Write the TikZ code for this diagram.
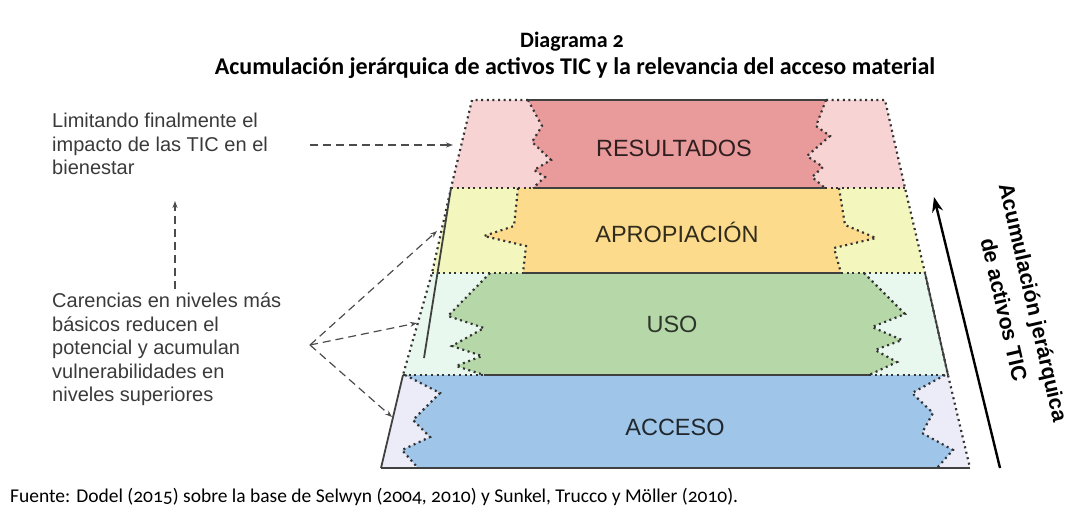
\documentclass[tikz,border=0pt]{standalone}
\usepackage{fontspec}
\setmainfont{Liberation Sans}
\newfontfamily\calfont[Numbers=OldStyle]{Carlito}
\usetikzlibrary{arrows.meta}

\definecolor{resA}{HTML}{E99A9B}
\definecolor{resB}{HTML}{F8D3D3}
\definecolor{aprA}{HTML}{FCDB8C}
\definecolor{aprB}{HTML}{F3F7BE}
\definecolor{usoA}{HTML}{B6D7A8}
\definecolor{usoB}{HTML}{E8F8EE}
\definecolor{accA}{HTML}{9FC5E8}
\definecolor{accB}{HTML}{ECEBF8}
\definecolor{txt}{HTML}{3A3A3A}

\begin{document}
\begin{tikzpicture}[x=1pt,y=-1pt,
  dots/.style={draw=black!80,line width=2.2pt,dash pattern=on 2pt off 3.6pt},
  rim/.style={draw=black!75,line width=1.8pt},
  hint/.style={draw=black!70,line width=1.2pt,dash pattern=on 8pt off 5pt,-{Stealth[length=7pt,width=5pt]}},
  level/.style={font=\fontsize{23.5}{28}\selectfont},
  note/.style={align=left,anchor=north west,inner sep=0pt,text=txt,font=\fontsize{20}{23.5}\selectfont}]
  \useasboundingbox (0,0) rectangle (1072,520);

  % -=-=-=-=- TITLE -=-=-=-=-
  \node[font=\calfont\bfseries\fontsize{22}{26}\selectfont] (title) at (572,42) {Diagrama 2};
  \node[font=\calfont\bfseries\fontsize{24}{28}\selectfont] (subtitle) at (575,68) {Acumulación jerárquica de activos TIC y la relevancia del acceso material};

  % -=-=-=-=- LEVEL FILLS -=-=-=-=-
  \fill[resB] (472,100) -- (885,100) -- (905,188) -- (451,188) -- cycle;
  \fill[resA] (528,100) -- (542,126) -- (532,142) -- (551,160) -- (534,170) -- (545,177) -- (533,188)
    -- (825,188) -- (812,177) -- (823,167) -- (807,156) -- (830,136) -- (816,126) -- (826,100) -- cycle;
  \fill[aprB] (451,188) -- (905,188) -- (925,273) -- (432,273) -- cycle;
  \fill[aprA] (518,188) -- (514,226) -- (484,236) -- (526,246) -- (523,273)
    -- (841,273) -- (834,248) -- (876,238) -- (845,225) -- (839,188) -- cycle;
  \fill[usoB] (432,273) -- (925,273) -- (948,375) -- (403,375) -- cycle;
  \fill[usoA] (490,273) -- (448,316) -- (484,328) -- (452,346) -- (482,356) -- (456,366) -- (484,375)
    -- (869,375) -- (897,362) -- (875,350) -- (902,340) -- (872,327) -- (905,314) -- (864,273) -- cycle;
  \fill[accB] (403,375) -- (948,375) -- (970,468) -- (381,468) -- cycle;
  \fill[accA] (405,375) -- (440,393) -- (413,420) -- (430,437) -- (402,450) -- (418,468)
    -- (937,468) -- (953,450) -- (922,433) -- (933,413) -- (912,393) -- (945,375) -- cycle;

  % -=-=-=-=- DOTTED EDGES -=-=-=-=-
  \draw[dots] (528,100) -- (472,100) -- (451,188) -- (432,273) -- (403,375);
  \draw[dots] (826,100) -- (885,100) -- (905,188) -- (925,273) -- (948,375) -- (970,468);
  \draw[dots] (451,188) -- (533,188) (825,188) -- (905,188);
  \draw[dots] (432,273) -- (523,273) (841,273) -- (925,273);
  \draw[dots] (403,375) -- (484,375) (869,375) -- (948,375);
  \draw[dots] (528,100) -- (542,126) -- (532,142) -- (551,160) -- (534,170) -- (545,177) -- (533,188);
  \draw[dots] (826,100) -- (816,126) -- (830,136) -- (807,156) -- (823,167) -- (812,177) -- (825,188);
  \draw[dots] (518,188) -- (514,226) -- (484,236) -- (526,246) -- (523,273);
  \draw[dots] (839,188) -- (845,225) -- (876,238) -- (834,248) -- (841,273);
  \draw[dots] (490,273) -- (448,316) -- (484,328) -- (452,346) -- (482,356) -- (456,366) -- (484,375);
  \draw[dots] (864,273) -- (905,314) -- (872,327) -- (902,340) -- (875,350) -- (897,362) -- (869,375);
  \draw[dots] (405,375) -- (440,393) -- (413,420) -- (430,437) -- (402,450) -- (418,468);
  \draw[dots] (945,375) -- (912,393) -- (933,413) -- (922,433) -- (953,450) -- (937,468);

  % -=-=-=-=- SOLID EDGES -=-=-=-=-
  \draw[rim] (528,100) -- (826,100);
  \draw[rim] (533,188) -- (825,188);
  \draw[rim] (523,273) -- (841,273);
  \draw[rim] (484,375) -- (869,375);
  \draw[rim] (381,468) -- (970,468);
  \draw[rim] (451,188) -- (424,358);
  \draw[rim] (403,375) -- (381,468);
  \draw[rim] (925,273) -- (948,375);

  % -=-=-=-=- LEVEL NAMES -=-=-=-=-
  \node[level,text=black!80!resA] (res) at (674,148) {RESULTADOS};
  \node[level,text=black!80!aprA] (apr) at (677,232) {APROPIACIÓN};
  \node[level,text=black!75!usoA] (uso) at (672,324) {USO};
  \node[level,text=black!80!accA] (acc) at (675,427) {ACCESO};

  % -=-=-=-=- NOTES -=-=-=-=-
  \node[note] (lim) at (52,113) {Limitando finalmente el\\impacto de las TIC en el\\bienestar};
  \node[note] (car) at (52,293) {Carencias en niveles más\\básicos reducen el\\potencial y acumulan\\vulnerabilidades en\\niveles superiores};

  \coordinate (limA) at (310,145);
  \coordinate (limB) at (453,145);
  \coordinate (upA) at (175,289);
  \coordinate (upB) at (175,201);
  \coordinate (fan) at (310,345);
  \coordinate (toApr) at (437,231);
  \coordinate (toUso) at (417,323);
  \coordinate (toAcc) at (392,417);
  \draw[hint] (limA) -- (limB);
  \draw[hint] (upA) -- (upB);
  \draw[hint] (fan) -- (toApr);
  \draw[hint] (fan) -- (toUso);
  \draw[hint] (fan) -- (toAcc);

  % -=-=-=-=- ACCUMULATION -=-=-=-=-
  \coordinate (accBot) at (1000,468);
  \coordinate (accTop) at (934,197);
  \draw[line width=2.4pt,-{Stealth[length=15pt,width=11pt]}] (accBot) -- (accTop);
  \node[rotate=-77,align=center,font=\bfseries\fontsize{21.5}{30}\selectfont] (accum) at (1019,306) {Acumulación jerárquica\\de activos TIC};

  % -=-=-=-=- SOURCE -=-=-=-=-
  \node[anchor=west,inner sep=0pt,font=\calfont\fontsize{19.5}{22}\selectfont] (src) at (10,497) {Fuente: Dodel (2015) sobre la base de Selwyn (2004, 2010) y Sunkel, Trucco y Möller (2010).};
\end{tikzpicture}
\end{document}
